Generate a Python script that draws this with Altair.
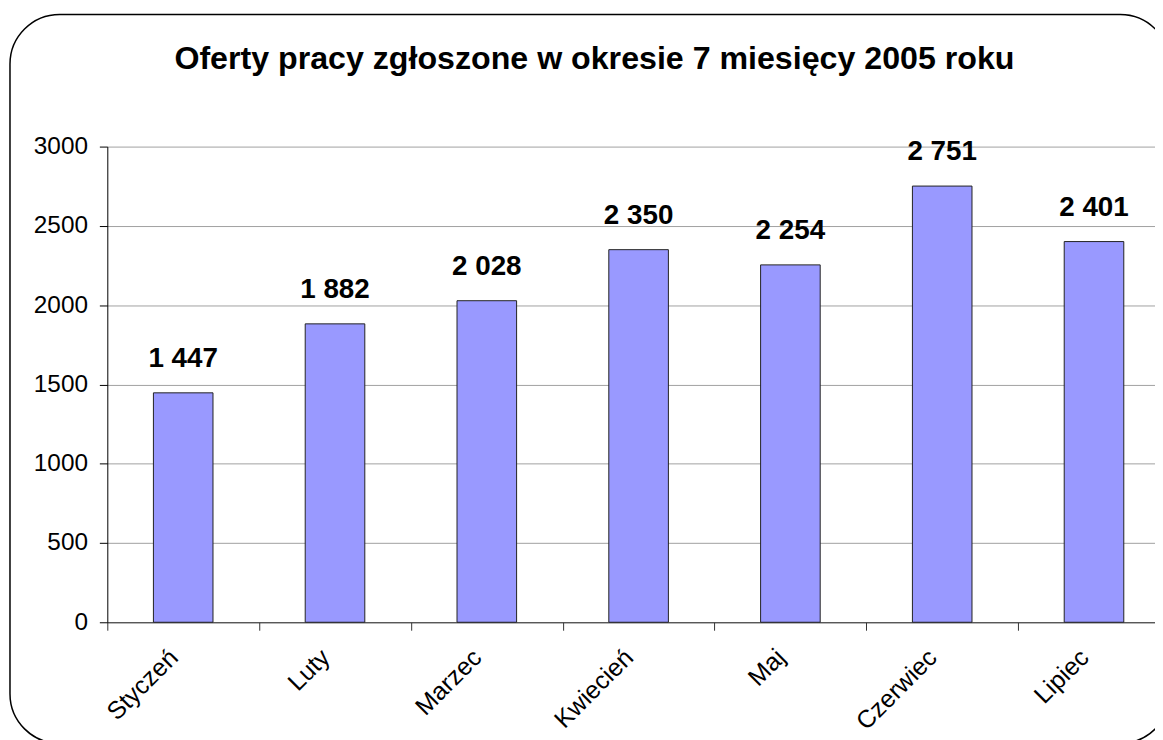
import altair as alt
import pandas as pd

months = ["Styczeń", "Luty", "Marzec", "Kwiecień", "Maj", "Czerwiec", "Lipiec"]
values = [1447, 1882, 2028, 2350, 2254, 2751, 2401]
y_ticks = [0, 500, 1000, 1500, 2000, 2500, 3000]
title_text = "Oferty pracy zgłoszone w okresie 7 miesięcy 2005 roku"

FONT = "Liberation Sans"
W, H = 1047, 479

df = pd.DataFrame({"month": months, "value": values})

x_enc = alt.X(
    "month:N",
    sort=months,
    scale=alt.Scale(range=[0, 1070], paddingInner=0, paddingOuter=0),
    axis=alt.Axis(
        title=None,
        labelAngle=-45,
        labelAlign="right",
        labelBaseline="middle",
        labelFont=FONT,
        labelFontSize=25,
        labelColor="black",
        labelPadding=23,
        labelOffset=-10,
        tickBand="extent",
        tickSize=8,
        tickColor="#333333",
        domainColor="#333333",
        grid=False,
    ),
)
y_enc = alt.Y(
    "value:Q",
    scale=alt.Scale(domain=[0, 3000], nice=False),
    axis=alt.Axis(
        title=None,
        values=y_ticks,
        format="d",
        labelFont=FONT,
        labelFontSize=24.5,
        labelColor="black",
        labelPadding=12,
        tickSize=8,
        tickColor="black",
        domainColor="black",
        grid=True,
        gridColor="#a0a0a0",
        gridWidth=1,
    ),
)

base = alt.Chart(df)

bars = base.mark_bar(width=60, color="#9999FF", stroke="#222222", strokeWidth=1).encode(
    x=x_enc, y=y_enc
)

labels = base.transform_calculate(
    lbl="replace(format(datum.value, ',d'), ',', ' ')"
).mark_text(
    font=FONT, fontSize=28, fontWeight="bold", color="black",
    baseline="alphabetic", dy=-26
).encode(
    x=alt.X("month:N", sort=months),
    y=alt.Y("value:Q"),
    text="lbl:N",
)

frame = alt.Chart(pd.DataFrame({"a": [0]})).mark_rect(
    filled=False, stroke="black", strokeWidth=1.5, cornerRadius=50
).encode(
    x=alt.value(-98), x2=alt.value(1070), y=alt.value(-133), y2=alt.value(601)
)

chart = alt.layer(frame, bars, labels).properties(
    width=W,
    height=H,
    title=alt.TitleParams(
        title_text, anchor="middle", font=FONT, fontSize=32.4, fontWeight="bold",
        color="black", dx=-33, offset=-62
    ),
    autosize=alt.AutoSizeParams(type="none"),
    padding={"left": 100, "top": 137, "right": 8, "bottom": 118},
).configure_view(stroke=None)

chart.save("out.html", embed_options={"renderer": "svg", "actions": False})
